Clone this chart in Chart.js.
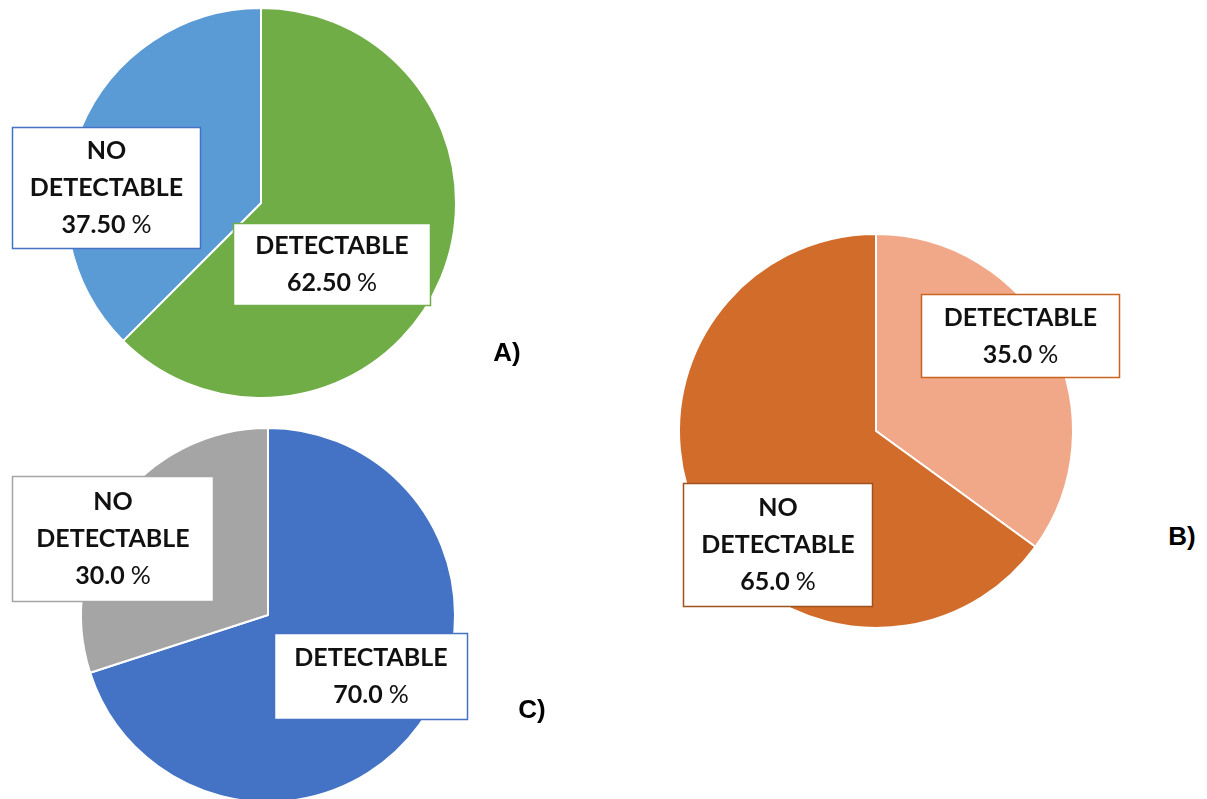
<!DOCTYPE html>
<html>
<head>
<meta charset="utf-8">
<script src="https://cdn.jsdelivr.net/npm/chart.js@4.4.0/dist/chart.umd.min.js"></script>
<style>
  html, body { margin: 0; padding: 0; background: #fff; overflow: hidden; }
  body { width: 1207px; height: 799px; position: relative; }
  canvas { position: absolute; }
  .tag { position: absolute; font: bold 26px "Liberation Sans", Arial, sans-serif; color: #000; transform: translate(-50%, -50%); }
</style>
</head>
<body>
<canvas id="chartA" width="522" height="406" style="left:0px;top:0px"></canvas>
<canvas id="chartB" width="512" height="422" style="left:620px;top:220px"></canvas>
<canvas id="chartC" width="536" height="390" style="left:0px;top:420px"></canvas>
<div class="tag" style="left:507px;top:352px">A)</div>
<div class="tag" style="left:1182px;top:536px">B)</div>
<div class="tag" style="left:532px;top:709px">C)</div>
<script>
// datos
const categories = ['DETECTABLE', 'NO DETECTABLE'];
const valuesA = [62.5, 37.5];
const valuesB = [35.0, 65.0];
const valuesC = [70.0, 30.0];
const decimalsA = 2;
const decimalsB = 1;
const decimalsC = 1;

// cajas de etiquetas (relativas al centro del pastel): [x, y, w, h]
const boxesA = [[-28, 20, 198, 83], [-249, -76, 189, 122]];
const boxesB = [[45, -137, 199, 84], [-193, 52, 190, 124]];
const boxesC = [[6, 18, 194, 87], [-256, -139, 202, 126]];

const FONT = '"Lato", "Open Sans", sans-serif';
const SIZE = 25;

const labelBoxes = {
    id: 'labelBoxes',
    afterDatasetsDraw(chart, args, opts) {
        const ctx = chart.ctx;
        const meta = chart.getDatasetMeta(0);
        const data = chart.data.datasets[0].data;
        const cx = meta.data[0].x;
        const cy = meta.data[0].y;
        ctx.save();
        for (let i = 0; i < data.length; i++) {
            const b = opts.boxes[i];
            const x = cx + b[0], y = cy + b[1], w = b[2], h = b[3];
            ctx.fillStyle = '#fff';
            ctx.fillRect(x, y, w, h);
            ctx.strokeStyle = opts.borders[i];
            ctx.lineWidth = 1.5;
            ctx.strokeRect(x + 0.5, y + 0.5, w - 1, h - 1);

            const lines = chart.data.labels[i].split(' ');
            const num = data[i].toFixed(opts.decimals);
            const n = lines.length + 1;
            const step = 37;
            const first = y + h / 2 - (n - 1) * step / 2;
            const mid = x + w / 2;
            ctx.textBaseline = 'middle';
            ctx.textAlign = 'center';
            ctx.fillStyle = '#111';
            ctx.font = 'bold ' + SIZE + 'px ' + FONT;
            for (let j = 0; j < lines.length; j++) {
                ctx.fillText(lines[j], mid, first + j * step);
            }
            // numero en negrita, % normal
            const wNum = ctx.measureText(num + ' ').width;
            ctx.font = SIZE + 'px ' + FONT;
            const wPct = ctx.measureText('%').width;
            const left = mid - (wNum + wPct) / 2;
            ctx.textAlign = 'left';
            const ly = first + lines.length * step;
            ctx.font = 'bold ' + SIZE + 'px ' + FONT;
            ctx.fillText(num, left, ly);
            ctx.font = SIZE + 'px ' + FONT;
            ctx.fillText('%', left + wNum, ly);
        }
        ctx.restore();
    }
};

function makePie(id, values, colors, radius, boxes, borders, decimals) {
    return new Chart(document.getElementById(id), {
        type: 'pie',
        data: {
            labels: categories,
            datasets: [{
                data: values,
                backgroundColor: colors,
                borderColor: '#fff',
                borderWidth: 2,
                hoverOffset: 0
            }]
        },
        options: {
            responsive: false,
            animation: false,
            radius: radius,
            layout: { padding: 0 },
            events: [],
            plugins: {
                legend: { display: false },
                tooltip: { enabled: false },
                labelBoxes: { boxes: boxes, borders: borders, decimals: decimals }
            }
        },
        plugins: [labelBoxes]
    });
}

makePie('chartA', valuesA, ['#70AD47', '#5B9BD5'], 195, boxesA, ['#70AD47', '#4472C4'], decimalsA);
makePie('chartB', valuesB, ['#F0A889', '#D26C2B'], 197, boxesB, ['#C8641F', '#A0521C'], decimalsB);
makePie('chartC', valuesC, ['#4472C4', '#A5A5A5'], 187, boxesC, ['#4472C4', '#A5A5A5'], decimalsC);
</script>
</body>
</html>
